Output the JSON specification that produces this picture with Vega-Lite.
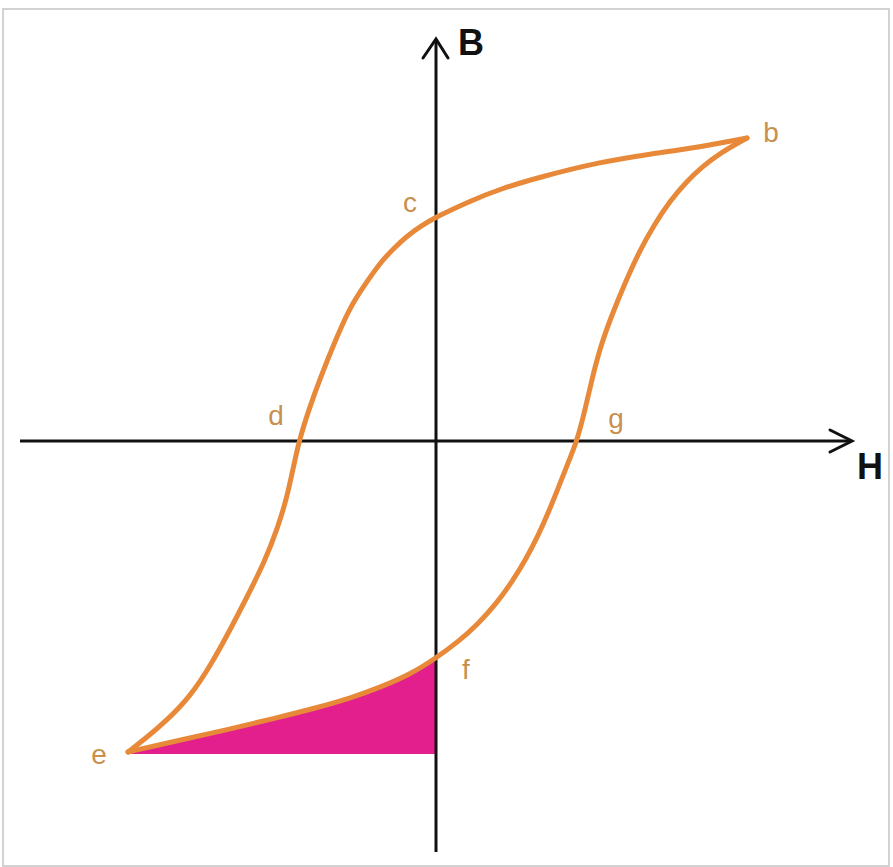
{
  "$schema": "https://vega.github.io/schema/vega-lite/v6.json",
  "width": 893,
  "height": 867,
  "autosize": {"type": "none"},
  "padding": 0,
  "background": "white",
  "config": {"view": {"stroke": null}},
  "datasets": {
    "upper": [
      {"i": 0, "h": 311, "v": 303}, {"i": 1, "h": 264, "v": 294}, {"i": 2, "h": 214, "v": 287},
      {"i": 3, "h": 164, "v": 279}, {"i": 4, "h": 104, "v": 264}, {"i": 5, "h": 64, "v": 252},
      {"i": 6, "h": 34, "v": 240}, {"i": 7, "h": 0, "v": 224}, {"i": 8, "h": -15, "v": 215},
      {"i": 9, "h": -29, "v": 205}, {"i": 10, "h": -43, "v": 192}, {"i": 11, "h": -56, "v": 178},
      {"i": 12, "h": -70, "v": 158}, {"i": 13, "h": -86, "v": 134}, {"i": 14, "h": -100, "v": 102},
      {"i": 15, "h": -115, "v": 65}, {"i": 16, "h": -127, "v": 32}, {"i": 17, "h": -137, "v": 0},
      {"i": 18, "h": -143, "v": -28}, {"i": 19, "h": -149, "v": -56}, {"i": 20, "h": -158, "v": -86},
      {"i": 21, "h": -171, "v": -120}, {"i": 22, "h": -189, "v": -156}, {"i": 23, "h": -206, "v": -189},
      {"i": 24, "h": -224, "v": -222}, {"i": 25, "h": -246, "v": -256}, {"i": 26, "h": -270, "v": -280},
      {"i": 27, "h": -290, "v": -297}, {"i": 28, "h": -308, "v": -311}
    ],
    "lower": [
      {"i": 0, "h": -308, "v": -311}, {"i": 1, "h": -260, "v": -300}, {"i": 2, "h": -210, "v": -289},
      {"i": 3, "h": -160, "v": -277}, {"i": 4, "h": -120, "v": -267}, {"i": 5, "h": -85, "v": -257},
      {"i": 6, "h": -55, "v": -246}, {"i": 7, "h": -25, "v": -233}, {"i": 8, "h": 0, "v": -217},
      {"i": 9, "h": 22, "v": -201}, {"i": 10, "h": 42, "v": -183}, {"i": 11, "h": 60, "v": -163},
      {"i": 12, "h": 76, "v": -141}, {"i": 13, "h": 90, "v": -118}, {"i": 14, "h": 102, "v": -95},
      {"i": 15, "h": 113, "v": -70}, {"i": 16, "h": 123, "v": -45}, {"i": 17, "h": 132, "v": -22},
      {"i": 18, "h": 141, "v": 0}, {"i": 19, "h": 149, "v": 31}, {"i": 20, "h": 156, "v": 62},
      {"i": 21, "h": 164, "v": 93}, {"i": 22, "h": 175, "v": 124}, {"i": 23, "h": 189, "v": 158},
      {"i": 24, "h": 203, "v": 189}, {"i": 25, "h": 218, "v": 216}, {"i": 26, "h": 234, "v": 240},
      {"i": 27, "h": 250, "v": 259}, {"i": 28, "h": 266, "v": 274}, {"i": 29, "h": 284, "v": 288},
      {"i": 30, "h": 311, "v": 303}
    ],
    "fill": [
      {"h": -308, "v": -311}, {"h": -260, "v": -300}, {"h": -210, "v": -289},
      {"h": -160, "v": -277}, {"h": -120, "v": -267}, {"h": -85, "v": -257},
      {"h": -55, "v": -246}, {"h": -25, "v": -233}, {"h": 0, "v": -217}
    ],
    "axes": [
      {"h": -416, "v": 0, "h2": 416, "v2": 0},
      {"h": 0, "v": 402, "h2": 0, "v2": -411}
    ],
    "arrows": [
      {"a": "v", "i": 0, "h": -13, "v": 383}, {"a": "v", "i": 1, "h": 0, "v": 402}, {"a": "v", "i": 2, "h": 12, "v": 383},
      {"a": "h", "i": 0, "h": 394, "v": 11}, {"a": "h", "i": 1, "h": 416, "v": 0}, {"a": "h", "i": 2, "h": 394, "v": -11}
    ],
    "frame": [{"h": -433, "v": 432, "h2": 453, "v2": -425}],
    "labels": [
      {"t": "b", "h": 335, "v": 307}, {"t": "c", "h": -26, "v": 237}, {"t": "d", "h": -160, "v": 24},
      {"t": "e", "h": -337, "v": -315}, {"t": "f", "h": 30, "v": -230}, {"t": "g", "h": 180, "v": 21}
    ],
    "axisLabels": [
      {"t": "B", "h": 35, "v": 397}, {"t": "H", "h": 434, "v": -27}
    ]
  },
  "encoding": {
    "x": {"field": "h", "type": "quantitative", "axis": null, "scale": {"domain": [-436, 457], "nice": false, "zero": false}},
    "y": {"field": "v", "type": "quantitative", "axis": null, "scale": {"domain": [-426, 441], "nice": false, "zero": false}}
  },
  "layer": [
    {
      "data": {"name": "frame"},
      "mark": {"type": "rect", "fill": null, "stroke": "#d2d2d2", "strokeWidth": 2},
      "encoding": {"x2": {"field": "h2"}, "y2": {"field": "v2"}}
    },
    {
      "data": {"name": "fill"},
      "mark": {"type": "area", "color": "#e21f8d", "interpolate": "basis", "opacity": 1},
      "encoding": {"y2": {"datum": -313}}
    },
    {
      "data": {"name": "axes"},
      "mark": {"type": "rule", "color": "#111111", "strokeWidth": 3},
      "encoding": {"x2": {"field": "h2"}, "y2": {"field": "v2"}}
    },
    {
      "data": {"name": "arrows"},
      "mark": {"type": "line", "color": "#111111", "strokeWidth": 3, "strokeJoin": "miter", "strokeCap": "round"},
      "encoding": {"detail": {"field": "a"}, "order": {"field": "i"}}
    },
    {
      "data": {"name": "upper"},
      "mark": {"type": "line", "color": "#e8893a", "strokeWidth": 5, "interpolate": "basis", "strokeCap": "round"},
      "encoding": {"order": {"field": "i"}}
    },
    {
      "data": {"name": "lower"},
      "mark": {"type": "line", "color": "#e8893a", "strokeWidth": 5, "interpolate": "basis", "strokeCap": "round"},
      "encoding": {"order": {"field": "i"}}
    },
    {
      "data": {"name": "labels"},
      "mark": {"type": "text", "font": "Liberation Sans", "fontSize": 28, "color": "#c98f4e", "align": "center", "baseline": "middle"},
      "encoding": {"text": {"field": "t"}}
    },
    {
      "data": {"name": "axisLabels"},
      "mark": {"type": "text", "font": "Liberation Sans", "fontSize": 36, "fontWeight": "bold", "color": "#111111", "align": "center", "baseline": "middle"},
      "encoding": {"text": {"field": "t"}}
    }
  ]
}
